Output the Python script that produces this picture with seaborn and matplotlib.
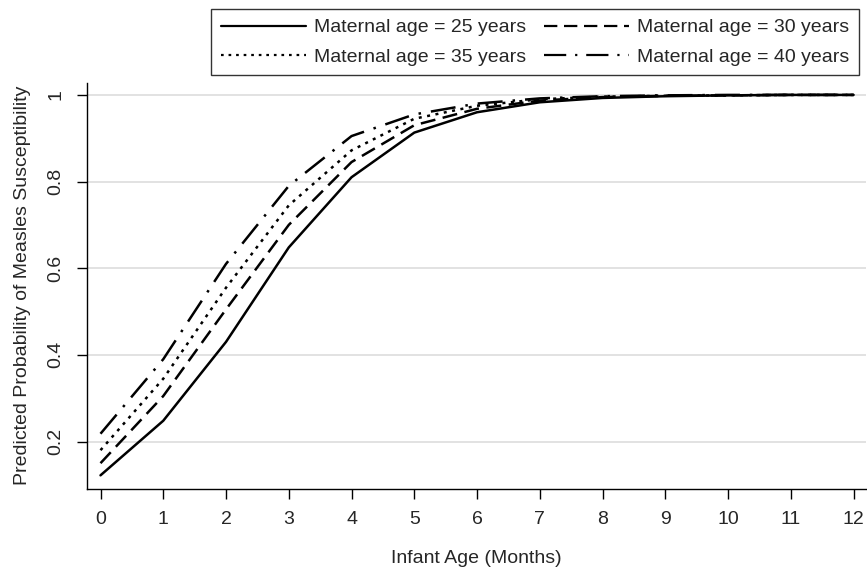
import pandas as pd
import numpy as np
import seaborn as sns
import matplotlib.pyplot as plt

# Infant age in months
months = [0, 1, 2, 3, 4, 5, 6, 7, 8, 9, 10, 11, 12]

# Predicted probability of susceptibility
age25 = [0.122, 0.248, 0.430, 0.648, 0.810, 0.913, 0.960, 0.983, 0.993, 0.997, 0.999, 1.000, 1.000]
age30 = [0.150, 0.305, 0.505, 0.700, 0.845, 0.930, 0.968, 0.987, 0.995, 0.998, 0.999, 1.000, 1.000]
age35 = [0.180, 0.345, 0.555, 0.745, 0.872, 0.945, 0.975, 0.990, 0.996, 0.998, 0.999, 1.000, 1.000]
age40 = [0.218, 0.390, 0.610, 0.790, 0.905, 0.955, 0.980, 0.992, 0.997, 0.999, 1.000, 1.000, 1.000]

labels = ['Maternal age = 25 years', 'Maternal age = 30 years',
          'Maternal age = 35 years', 'Maternal age = 40 years']
yticks = [0.2, 0.4, 0.6, 0.8, 1.0]
yticklabels = ['0.2', '0.4', '0.6', '0.8', '1']

df = pd.concat([
    pd.DataFrame({'month': months, 'prob': vals, 'group': lab})
    for vals, lab in zip([age25, age30, age35, age40], labels)
])

sns.set_style('white')
plt.rcParams['font.family'] = ['Liberation Sans', 'DejaVu Sans']

fig = plt.figure(figsize=(8.67, 5.67), dpi=100)
ax = fig.add_axes([0.100, 0.138, 0.899, 0.716])

dash_styles = {
    labels[0]: '',
    labels[1]: (6, 3),
    labels[2]: (1.2, 2.2),
    labels[3]: (10, 4, 1, 4),
}
sns.lineplot(data=df, x='month', y='prob', style='group', dashes=dash_styles,
             color='black', linewidth=1.8, ax=ax, legend=False)

# legend handles built to match the line styles
handles = {}
for lab in labels:
    d = dash_styles[lab]
    ln, = ax.plot([], [], color='black', linewidth=1.6, label=lab)
    if d:
        ln.set_dashes(d)
    handles[lab] = ln

# matplotlib fills legend columns first, so reorder to get rows 25/30 and 35/40
order = [labels[0], labels[2], labels[1], labels[3]]
leg = fig.legend(handles=[handles[l] for l in order], labels=order, ncol=2,
                 loc='upper right', bbox_to_anchor=(0.991, 0.984), borderaxespad=0,
                 frameon=True, fancybox=False, fontsize=14, handlelength=4.4,
                 columnspacing=0.9, handletextpad=0.4, borderpad=0.5, labelspacing=0.6)
leg.get_frame().set_edgecolor('black')
leg.get_frame().set_linewidth(1.0)

ax.set_xlim(-0.22, 12.2)
ax.set_ylim(0.091, 1.028)
ax.set_xticks(months)
ax.set_xticklabels([str(m) for m in months], fontsize=14)
ax.set_yticks(yticks)
ax.set_yticklabels(yticklabels, fontsize=14, rotation=90, va='center')
ax.yaxis.grid(True, color='#dddddd', linewidth=1.2)
ax.set_axisbelow(True)

ax.tick_params(axis='both', direction='out', length=7, width=1, color='black',
               left=True, bottom=True, pad=9)
for side in ['top', 'right']:
    ax.spines[side].set_visible(False)
for side in ['left', 'bottom']:
    ax.spines[side].set_color('black')
    ax.spines[side].set_linewidth(1)

ax.set_xlabel('Infant Age (Months)', fontsize=14, labelpad=16)
ax.set_ylabel('Predicted Probability of Measles Susceptibility', fontsize=14, labelpad=12)

fig.savefig('out.png', dpi=100)
